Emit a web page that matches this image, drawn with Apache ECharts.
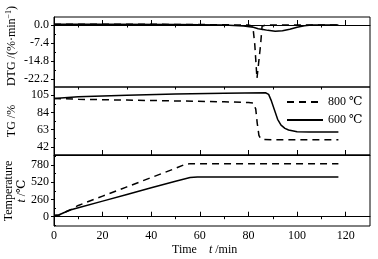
<!DOCTYPE html>
<html>
<head>
<meta charset="utf-8">
<script src="https://cdn.jsdelivr.net/npm/echarts@6/dist/echarts.min.js"></script>
<style>
  html, body { margin: 0; padding: 0; background: #fff; }
  #chart { width: 378px; height: 259px; }
</style>
</head>
<body>
<div id="chart"></div>
<script>
// 各曲线数据 [时间 min, 数值]
const dtg800 = [[0, 0.3], [20, 0.3], [40, 0.3], [60, 0.2], [80, 0], [81.8, -0.5], [82.6, -8], [83.5, -22], [84.2, -22], [85, -8], [85.6, -0.5], [87, 0], [100, 0], [117, 0]]
const dtg600 = [[0, 0.3], [20, 0.3], [50, 0.2], [70, 0], [78, -0.4], [82, -0.9], [84, -1.5], [86, -1.8], [88, -2.2], [91, -2.6], [94, -2.4], [97, -1.7], [100, -0.9], [103, -0.3], [106, 0], [117, 0]]
const tg800 = [[0, 101], [10, 100], [30, 99], [50, 98], [70, 97], [80, 96], [82, 95.5], [83, 88], [83.6, 71], [84.3, 56], [85, 52], [86, 51], [90, 50.5], [117, 50.5]]
const tg600 = [[0, 101], [10, 103], [30, 105], [50, 106.5], [70, 107.5], [87, 108], [88.3, 106], [89.3, 99], [90.7, 87], [92, 75.5], [93.4, 68.5], [95, 64.5], [96.5, 62.5], [100, 60.5], [105, 60], [117, 60]]
const temp800 = [[0, 20], [2, 25], [4, 60], [7, 110], [10, 170], [20, 310], [30, 450], [40, 590], [50, 730], [54, 790], [56, 800], [80, 800], [100, 800], [117, 800]]
const temp600 = [[0, 20], [2, 25], [4, 60], [7, 105], [10, 135], [20, 235], [30, 335], [40, 435], [50, 535], [56, 590], [59, 600], [80, 600], [100, 600], [117, 600]]

// 刻度
const timeTicks = [0, 20, 40, 60, 80, 100, 120]
const timeMinor = [10, 30, 50, 70, 90, 110]
const dtgTicks = [-22.2, -14.8, -7.4, 0]
const dtgMinor = [-18.5, -11.1, -3.7]
const tgTicks = [42, 63, 84, 105]
const tgMinor = [52.5, 73.5, 94.5]
const tempTicks = [0, 260, 520, 780]
const tempMinor = [-130, 130, 390, 650, 910]

const ranges = [[-25.5, 3.3], [32, 115], [-140, 930]]

const chartDom = document.getElementById('chart')
const chart = echarts.init(chartDom)

const FONT = '"Liberation Serif", "DejaVu Serif", serif'
const grids = [
  { left: 54, right: 8, top: 17, height: 70 },
  { left: 54, right: 8, top: 87, height: 68 },
  { left: 54, right: 8, top: 155, height: 71 }
].map(g => ({ ...g, show: true, borderColor: '#000', borderWidth: 1 }))

const xAxes = []
const yAxes = []
const majorY = [dtgTicks, tgTicks, tempTicks]
const minorY = [dtgMinor, tgMinor, tempMinor]

for (let i = 0; i < 3; i++) {
  xAxes.push({
    type: 'value', gridIndex: i, min: 0, max: 130,
    axisLine: { show: true, lineStyle: { color: '#000', width: 1 } },
    axisTick: { show: true, inside: true, length: 5, customValues: timeTicks, lineStyle: { color: '#000' } },
    axisLabel: {
      show: i === 2, customValues: timeTicks, margin: 4,
      color: '#000', fontFamily: FONT, fontSize: 12
    },
    splitLine: { show: false }
  })
  yAxes.push({
    type: 'value', gridIndex: i, min: ranges[i][0], max: ranges[i][1],
    axisLine: { show: true, lineStyle: { color: '#000', width: 1 } },
    axisTick: { show: true, inside: false, length: 3, customValues: majorY[i], lineStyle: { color: '#000' } },
    axisLabel: {
      customValues: majorY[i], margin: 5,
      color: '#000', fontFamily: FONT, fontSize: 12,
      formatter: i === 0 ? (v => v.toFixed(1)) : (v => String(v))
    },
    splitLine: { show: false }
  })
}
// 次刻度
for (let i = 0; i < 3; i++) {
  xAxes.push({
    type: 'value', gridIndex: i, min: 0, max: 130,
    axisLine: { show: false },
    axisTick: { show: true, inside: true, length: 2.5, customValues: timeMinor, lineStyle: { color: '#000' } },
    axisLabel: { show: false },
    splitLine: { show: false }
  })
  yAxes.push({
    type: 'value', gridIndex: i, min: ranges[i][0], max: ranges[i][1],
    axisLine: { show: false },
    axisTick: { show: true, inside: false, length: 2, customValues: minorY[i], lineStyle: { color: '#000' } },
    axisLabel: { show: false },
    splitLine: { show: false }
  })
}

const dashed = { color: '#000', width: 1.5, type: [7, 5] }
const solid = { color: '#000', width: 1.5, type: 'solid' }

const mk = (name, data, idx, style) => ({
  name, type: 'line', data, xAxisIndex: idx, yAxisIndex: idx,
  symbol: 'none', smooth: false, lineStyle: style, itemStyle: { color: '#000' },
  animation: false
})

const option = {
  animation: false,
  textStyle: { fontFamily: FONT },
  grid: grids,
  xAxis: xAxes,
  yAxis: yAxes,
  legend: {
    data: ['800 ℃', '600 ℃'],
    orient: 'vertical', left: 281, top: 91,
    itemWidth: 36, itemHeight: 12, itemGap: 6,
    itemStyle: { opacity: 0 },
    textStyle: { color: '#000', fontFamily: FONT, fontSize: 12 }
  },
  series: [
    mk('800 ℃', tg800, 1, dashed),
    mk('600 ℃', tg600, 1, solid),
    mk('800 ℃', dtg800, 0, dashed),
    mk('600 ℃', dtg600, 0, solid),
    mk('800 ℃', temp800, 2, dashed),
    mk('600 ℃', temp600, 2, solid)
  ],
  graphic: [
    {
      type: 'text', x: 12, y: 46, rotation: Math.PI / 2,
      style: {
        text: 'DTG /(%·min{sup|−1})', fill: '#000', font: '12px ' + FONT,
        align: 'center', verticalAlign: 'middle',
        rich: { sup: { fontSize: 8, verticalAlign: 'top', fontFamily: FONT, padding: [0, 0, 6, 0] } }
      }
    },
    {
      type: 'text', x: 12, y: 121, rotation: Math.PI / 2,
      style: { text: 'TG /%', fill: '#000', font: '12px ' + FONT, align: 'center', verticalAlign: 'middle' }
    },
    {
      type: 'text', x: 9, y: 191, rotation: Math.PI / 2,
      style: { text: 'Temperature', fill: '#000', font: '12px ' + FONT, align: 'center', verticalAlign: 'middle' }
    },
    {
      type: 'text', x: 22, y: 191, rotation: Math.PI / 2,
      style: {
        text: '{i|t} /℃', fill: '#000', font: '12px ' + FONT, align: 'center', verticalAlign: 'middle',
        rich: { i: { fontStyle: 'italic', fontFamily: FONT, fontSize: 12 } }
      }
    },
    {
      type: 'text', x: 172, y: 250,
      style: {
        text: 'Time    {i|t} /min', fill: '#000', font: '12px ' + FONT, align: 'left', verticalAlign: 'middle',
        rich: { i: { fontStyle: 'italic', fontFamily: FONT, fontSize: 12 } }
      }
    }
  ]
}

chart.setOption(option)
</script>
</body>
</html>
